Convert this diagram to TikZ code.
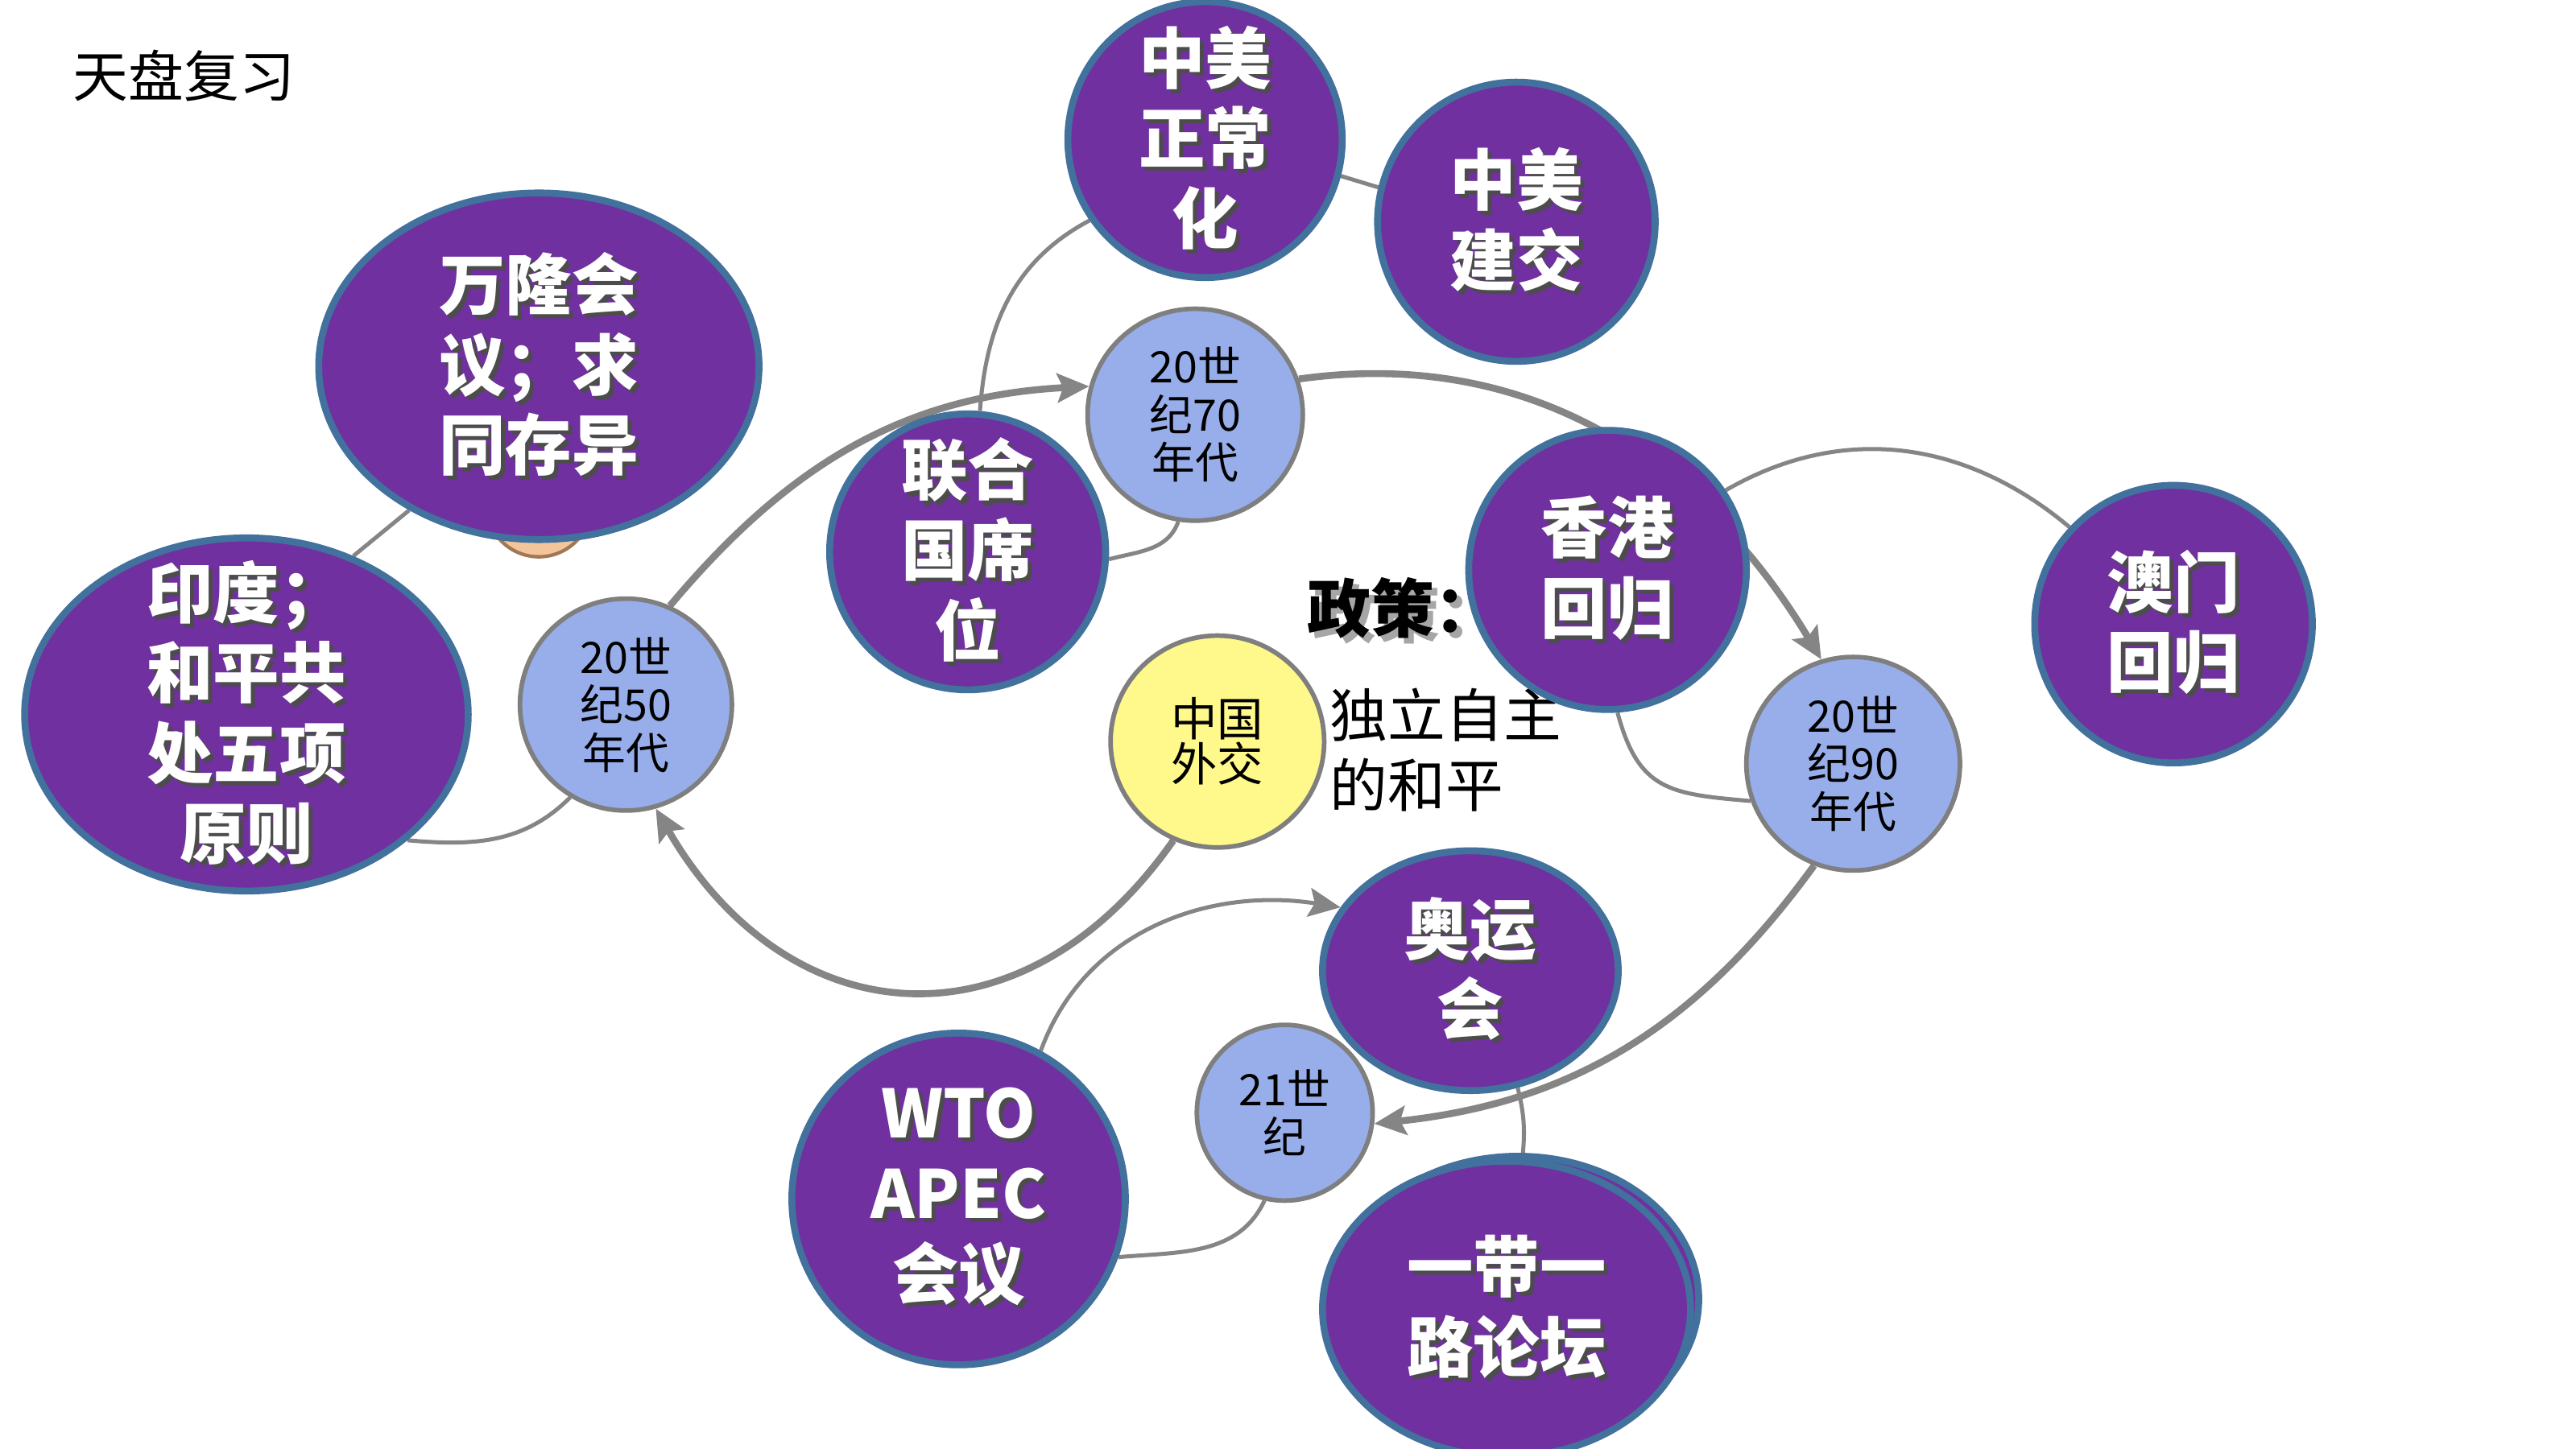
\documentclass[tikz,border=0pt]{standalone}
\usepackage{fontspec}
\setmainfont{Noto Sans CJK SC}
\usepackage{xcolor}
\usepackage{tikz}
\usetikzlibrary{
  arrows.meta,
  shapes.geometric,
  backgrounds
}
\definecolor{purpleC}{HTML}{7030A0}
\definecolor{ringblue}{HTML}{41719C}
\definecolor{erablue}{HTML}{98AEEA}
\definecolor{ringgray}{HTML}{7F7F7F}
\definecolor{coreyellow}{HTML}{FFF88A}
\definecolor{linkgray}{HTML}{858585}
\definecolor{peach}{HTML}{F4C59A}
\definecolor{peachedge}{HTML}{A07858}
\newcommand\shd[1]{\rlap{\kern0.7pt\raisebox{-0.7pt}{\textcolor{black!70}{#1}}}#1}

\begin{document}
\begin{tikzpicture}[
  bigC/.style={
    ellipse, draw=ringblue, line width=1.2pt, fill=purpleC, text=white,
    align=center, inner sep=-0.35cm, font=\bfseries\fontsize{11.5}{13.9}\selectfont,
  },
  eraC/.style={
    ellipse, draw=ringgray, line width=0.8pt, fill=erablue,
    align=center, inner sep=-0.1cm, font=\fontsize{7.5}{8.3}\selectfont,
  },
  link/.style={draw=linkgray, line width=0.7pt},
  flow/.style={draw=linkgray, line width=1.2pt, -{Stealth[length=5.5pt,width=5pt,inset=1pt]}},
]
\useasboundingbox (0,0) rectangle (15.68,-8.82);

\node[font=\fontsize{9.6}{11}\selectfont] (title) at (1.12,-0.46) {天盘复习};

% centre
\node[ellipse, draw=ringgray, line width=0.8pt, fill=coreyellow, align=center, inner sep=-0.1cm,
  minimum width=1.30cm, minimum height=1.29cm, font=\fontsize{8}{7.8}\selectfont] (zgwj) at (7.41,-4.515) {中国\\外交};
\node[anchor=west, inner sep=0pt, align=left, font=\fontsize{10}{12.2}\selectfont] (zhengce) at (8.09,-4.565) {独立自主\\的和平};
\node[anchor=west, inner sep=0pt, font=\bfseries\fontsize{11}{13}\selectfont] (policy) at (7.95,-3.72)
  {\rlap{\kern1pt\raisebox{-1pt}{\textcolor{black!35}{政策：}}}政策：};

% 50s
\node[eraC, minimum width=1.29cm, minimum height=1.29cm] (e50) at (3.81,-4.29) {20世\\纪50\\年代};
\draw[fill=peach, draw=peachedge, line width=0.6pt] (3.28,-3.07) circle (0.32);
\node[bigC, minimum width=2.68cm, minimum height=2.11cm] (wanlong) at (3.28,-2.23) {\shd{万隆会}\\\shd{议；求}\\\shd{同存异}};
\node[bigC, minimum width=2.70cm, minimum height=2.15cm] (yindu) at (1.50,-4.35) {\shd{印度；}\\\shd{和平共}\\\shd{处五项}\\\shd{原则}};

% 70s
\node[eraC, minimum width=1.31cm, minimum height=1.29cm] (e70) at (7.275,-2.525) {20世\\纪70\\年代};
\node[bigC, minimum width=1.68cm, minimum height=1.68cm] (lhg) at (5.89,-3.36) {\shd{联合}\\\shd{国席}\\\shd{位}};
\node[bigC, minimum width=1.67cm, minimum height=1.68cm] (zmzc) at (7.335,-0.85) {\shd{中美}\\\shd{正常}\\\shd{化}};
\node[bigC, minimum width=1.69cm, minimum height=1.70cm] (zmjj) at (9.23,-1.35) {\shd{中美}\\\shd{建交}};

% 90s
\node[eraC, minimum width=1.30cm, minimum height=1.30cm] (e90) at (11.28,-4.65) {20世\\纪90\\年代};
\node[bigC, minimum width=1.69cm, minimum height=1.70cm] (hk) at (9.785,-3.47) {\shd{香港}\\\shd{回归}};
\node[bigC, minimum width=1.69cm, minimum height=1.69cm] (macau) at (13.23,-3.80) {\shd{澳门}\\\shd{回归}};

% 21st century
\node[eraC, minimum width=1.07cm, minimum height=1.07cm] (e21) at (7.82,-6.775) {21世\\纪};
\node[bigC, minimum width=1.80cm, minimum height=1.46cm] (aoyun) at (8.95,-5.91) {\shd{奥运}\\\shd{会}};
\node[bigC, minimum width=2.03cm, minimum height=2.02cm] (wto) at (5.835,-7.30) {\shd{WTO}\\\shd{APEC}\\\shd{会议}};
\draw[fill=purpleC, draw=ringblue, line width=1.2pt] (9.24,-7.91) ellipse (1.10 and 0.87);
\node[bigC, minimum width=2.24cm, minimum height=1.80cm] (ydyl) at (9.17,-7.97) {\shd{一带一}\\\shd{路论坛}};

\begin{scope}[on background layer]
% main cycle
\draw[flow] (zgwj.246) to[out=235, in=-60, looseness=1.3] (e50.286);
\draw[flow] (e50.66) to[out=50, in=183] (e70.165);
\draw[flow] (e70.19) to[out=8, in=121] (e90.107);
\draw[flow] (e90.249) to[out=234, in=6] (e21.353);

% satellites
\draw[link] (e50.239) to[out=225, in=-5] (yindu.-38);
\draw[link] (yindu.56) -- (wanlong.228);
\draw[link] (e70.261) to[out=250, in=15] (lhg.-3);
\draw[link] (lhg.85) to[out=86, in=208] (zmzc.215);
\draw[link] (zmzc.-15) -- (zmjj.166);
\draw[link] (hk.34) to[out=30, in=140] (macau.137);
\draw[link] (e90.200) to[out=175, in=285, looseness=1.3] (hk.274);
\draw[link, -{Stealth[length=5.5pt,width=5pt,inset=1pt]}] (wto.61) to[out=70, in=171] (aoyun.154);
\draw[link] (e21.257) to[out=245, in=5] (wto.-20);
\draw[link] (aoyun.-68) to[bend left=10] (ydyl.84);
\end{scope}

\end{tikzpicture}
\end{document}
